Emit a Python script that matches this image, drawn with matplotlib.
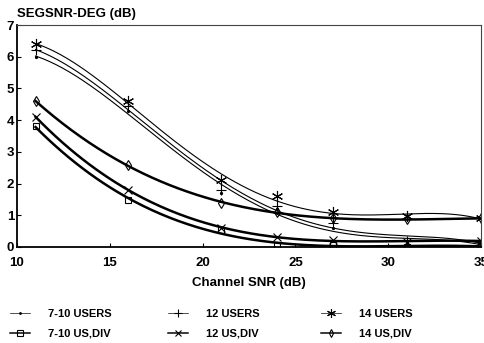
import numpy as np
import matplotlib.pyplot as plt

plt.rcParams['font.family'] = ['Liberation Sans', 'DejaVu Sans']
plt.rcParams['font.weight'] = 'bold'

snr = [11, 16, 21, 24, 27, 31, 35]

users_7_10 = [6.0, 4.3, 1.7, 1.2, 0.6, 0.15, 0.1]
users_12 = [6.2, 4.45, 1.8, 1.3, 0.75, 0.2, 0.15]
users_14 = [6.4, 4.6, 2.1, 1.6, 1.1, 0.97, 0.9]
div_7_10 = [3.8, 1.47, 0.53, 0.06, 0.06, 0.0, 0.03]
div_12 = [4.1, 1.81, 0.6, 0.3, 0.22, 0.17, 0.19]
div_14 = [4.6, 2.57, 1.39, 1.1, 0.9, 0.87, 0.9]

series = [
    ("7-10 USERS", users_7_10, '.', 0.8, 3),
    ("7-10 US,DIV", div_7_10, 's', 1.8, 5),
    ("12 USERS", users_12, '+', 0.8, 7),
    ("12 US,DIV", div_12, 'x', 1.8, 6),
    ("14 USERS", users_14, (6, 2, 0), 0.8, 8),
    ("14 US,DIV", div_14, 'd', 1.8, 5),
]

fig = plt.figure(figsize=(4.85, 3.43), dpi=100)
ax = fig.add_axes([0.035, 0.28, 0.957, 0.647])

xs = np.linspace(11, 35, 200)
handles = []
for label, vals, mk, lw, ms in series:
    deg = 4 if lw < 1 else 3
    coef = np.polyfit(snr, vals, deg)
    ax.plot(xs, np.polyval(coef, xs), color='black', lw=lw)
    fill = 'none' if mk in ('s', 'd') else 'black'
    ax.plot(snr, vals, ls='none', marker=mk, ms=ms, mfc=fill, mec='black', mew=0.8)
    h, = ax.plot([], [], color='black', lw=lw * 0.6, marker=mk, ms=ms * 0.8,
                 mfc=fill, mec='black', mew=0.8)
    handles.append((h, label))

ax.set_xlim(10, 35)
ax.set_ylim(0, 7)
ax.set_xticks([10, 15, 20, 25, 30, 35])
ax.set_yticks(range(8))
ax.tick_params(direction='in', length=3, labelsize=9.5, pad=2)
ax.tick_params(axis='x', pad=7)
for s in ('left', 'bottom'):
    ax.spines[s].set_linewidth(1.3)
for s in ('top', 'right'):
    ax.spines[s].set_linewidth(0.8)
    ax.spines[s].set_color('#444444')

ax.set_xlabel("Channel SNR (dB)", fontsize=9.5, fontweight='bold', labelpad=6)
fig.text(0.035, 0.95, "SEGSNR-DEG (dB)", fontsize=9.5, fontweight='bold')

# one legend per column, rows: USERS then US,DIV
col_x = [0.0, 0.326, 0.642]
for i, x0 in enumerate(col_x):
    pair = handles[2 * i:2 * i + 2]
    fig.legend([h for h, _ in pair], [l for _, l in pair], frameon=False,
               loc='lower left', bbox_to_anchor=(x0, -0.017), fontsize=8,
               handlelength=1.8, handletextpad=1.6, labelspacing=0.9)

fig.savefig("out.png", dpi=100)
